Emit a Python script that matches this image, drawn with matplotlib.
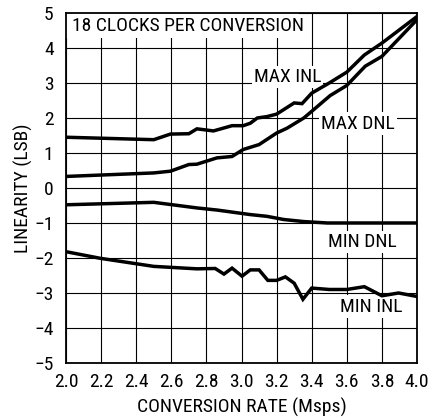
import matplotlib
matplotlib.use("Agg")
import matplotlib.pyplot as plt
from matplotlib import font_manager
from matplotlib.font_manager import FontProperties
from matplotlib.patches import Rectangle

# pick a condensed / narrow sans font if one is installed
cands = []
for f in font_manager.fontManager.ttflist:
    fn = f.fname.lower()
    if ('narrow' in fn or 'condensed' in fn) and 'bold' not in fn and 'italic' not in fn \
            and 'oblique' not in fn and 'mono' not in fn and 'serif' not in fn.replace('sans', '') \
            and 'light' not in fn and 'thin' not in fn and 'medium' not in fn and 'black' not in fn:
        cands.append(f.fname)
prio = ['liberationsansnarrow', 'robotocondensed', 'opensanscondensed', 'notosanscondensed', 'dejavusanscondensed']
def rank(p):
    b = p.lower().replace('-', '').replace('_', '')
    for i, k in enumerate(prio):
        if k in b:
            return i
    return len(prio)
cands.sort(key=rank)
if cands:
    FP = FontProperties(fname=cands[0])
    FS = 14
else:
    FP = FontProperties(family='Liberation Sans')
    FS = 12

max_inl_x = [2.0, 2.5, 2.595, 2.70, 2.746, 2.84, 2.946, 3.01, 3.05, 3.09, 3.145, 3.20, 3.30, 3.345, 3.40, 3.50, 3.60, 3.70, 3.80, 4.0]
max_inl_y = [1.45, 1.38, 1.54, 1.55, 1.69, 1.63, 1.78, 1.78, 1.85, 2.0, 2.04, 2.11, 2.43, 2.41, 2.71, 3.0, 3.31, 3.80, 4.14, 4.9]

max_dnl_x = [2.0, 2.5, 2.595, 2.70, 2.746, 2.86, 2.946, 3.01, 3.10, 3.20, 3.26, 3.355, 3.40, 3.505, 3.60, 3.705, 3.80, 4.0]
max_dnl_y = [0.33, 0.43, 0.48, 0.67, 0.68, 0.86, 0.90, 1.10, 1.24, 1.57, 1.71, 2.0, 2.19, 2.64, 2.93, 3.48, 3.76, 4.81]

min_dnl_x = [2.0, 2.5, 2.746, 2.86, 3.05, 3.145, 3.24, 3.355, 3.49, 4.0]
min_dnl_y = [-0.48, -0.41, -0.57, -0.63, -0.76, -0.81, -0.90, -0.96, -1.0, -1.0]

min_inl_x = [2.0, 2.196, 2.5, 2.746, 2.85, 2.90, 2.946, 3.003, 3.05, 3.10, 3.15, 3.20, 3.25, 3.30, 3.35, 3.40, 3.50, 3.60, 3.70, 3.80, 3.895, 4.0]
min_inl_y = [-1.82, -2.01, -2.24, -2.31, -2.30, -2.46, -2.29, -2.52, -2.34, -2.34, -2.64, -2.64, -2.54, -2.72, -3.18, -2.86, -2.90, -2.90, -2.82, -3.08, -3.0, -3.10]

x_ticks = [2.0, 2.2, 2.4, 2.6, 2.8, 3.0, 3.2, 3.4, 3.6, 3.8, 4.0]
x_labels = ['2.0', '2.2', '2.4', '2.6', '2.8', '3.0', '3.2', '3.4', '3.6', '3.8', '4.0']
y_ticks = [-5, -4, -3, -2, -1, 0, 1, 2, 3, 4, 5]
y_labels = ['\u22125', '\u22124', '\u22123', '\u22122', '\u22121', '0', '1', '2', '3', '4', '5']

fig = plt.figure(figsize=(4.30, 4.19), dpi=100)
ax = fig.add_axes([0.1535, 0.1337, 0.8163, 0.8353])
ax.set_xlim(2.0, 4.0)
ax.set_ylim(-5, 5)
ax.set_xticks(x_ticks)
ax.set_xticklabels(x_labels)
ax.set_yticks(y_ticks)
ax.set_yticklabels(y_labels)
ax.tick_params(axis='x', length=0, pad=7, colors='black')
ax.tick_params(axis='y', length=0, pad=9, colors='black')
for lab in ax.get_xticklabels() + ax.get_yticklabels():
    lab.set_fontproperties(FP)
    lab.set_fontsize(FS)
ax.grid(True, color='black', linewidth=0.8, zorder=1)
ax.set_axisbelow(True)
for s in ax.spines.values():
    s.set_linewidth(1.3)
    s.set_color('black')

ax.add_patch(Rectangle((2.0, 4.28), 1.33, 0.72, facecolor='white', edgecolor='none', zorder=1.5))

for xs, ys in [(max_inl_x, max_inl_y), (max_dnl_x, max_dnl_y), (min_dnl_x, min_dnl_y), (min_inl_x, min_inl_y)]:
    ax.plot(xs, ys, color='black', linewidth=2.5, zorder=3, solid_joinstyle='miter')

bb = dict(facecolor='white', edgecolor='none', pad=1.5)
ax.text(2.035, 4.64, '18 CLOCKS PER CONVERSION', fontproperties=FP, fontsize=FS, ha='left', va='center', zorder=2)
ax.text(3.262, 3.18, 'MAX INL', fontproperties=FP, fontsize=FS, ha='center', va='center', bbox=bb, zorder=2)
ax.text(3.664, 1.84, 'MAX DNL', fontproperties=FP, fontsize=FS, ha='center', va='center', bbox=bb, zorder=2)
ax.text(3.69, -1.55, 'MIN DNL', fontproperties=FP, fontsize=FS, ha='center', va='center', bbox=bb, zorder=2)
ax.text(3.74, -3.39, 'MIN INL', fontproperties=FP, fontsize=FS, ha='center', va='center', bbox=bb, zorder=2)

ax.set_xlabel('CONVERSION RATE (Msps)', fontproperties=FP, fontsize=FS, labelpad=5)
ax.set_ylabel('LINEARITY (LSB)', fontproperties=FP, fontsize=FS, labelpad=1)

fig.savefig('out.png', dpi=100)
